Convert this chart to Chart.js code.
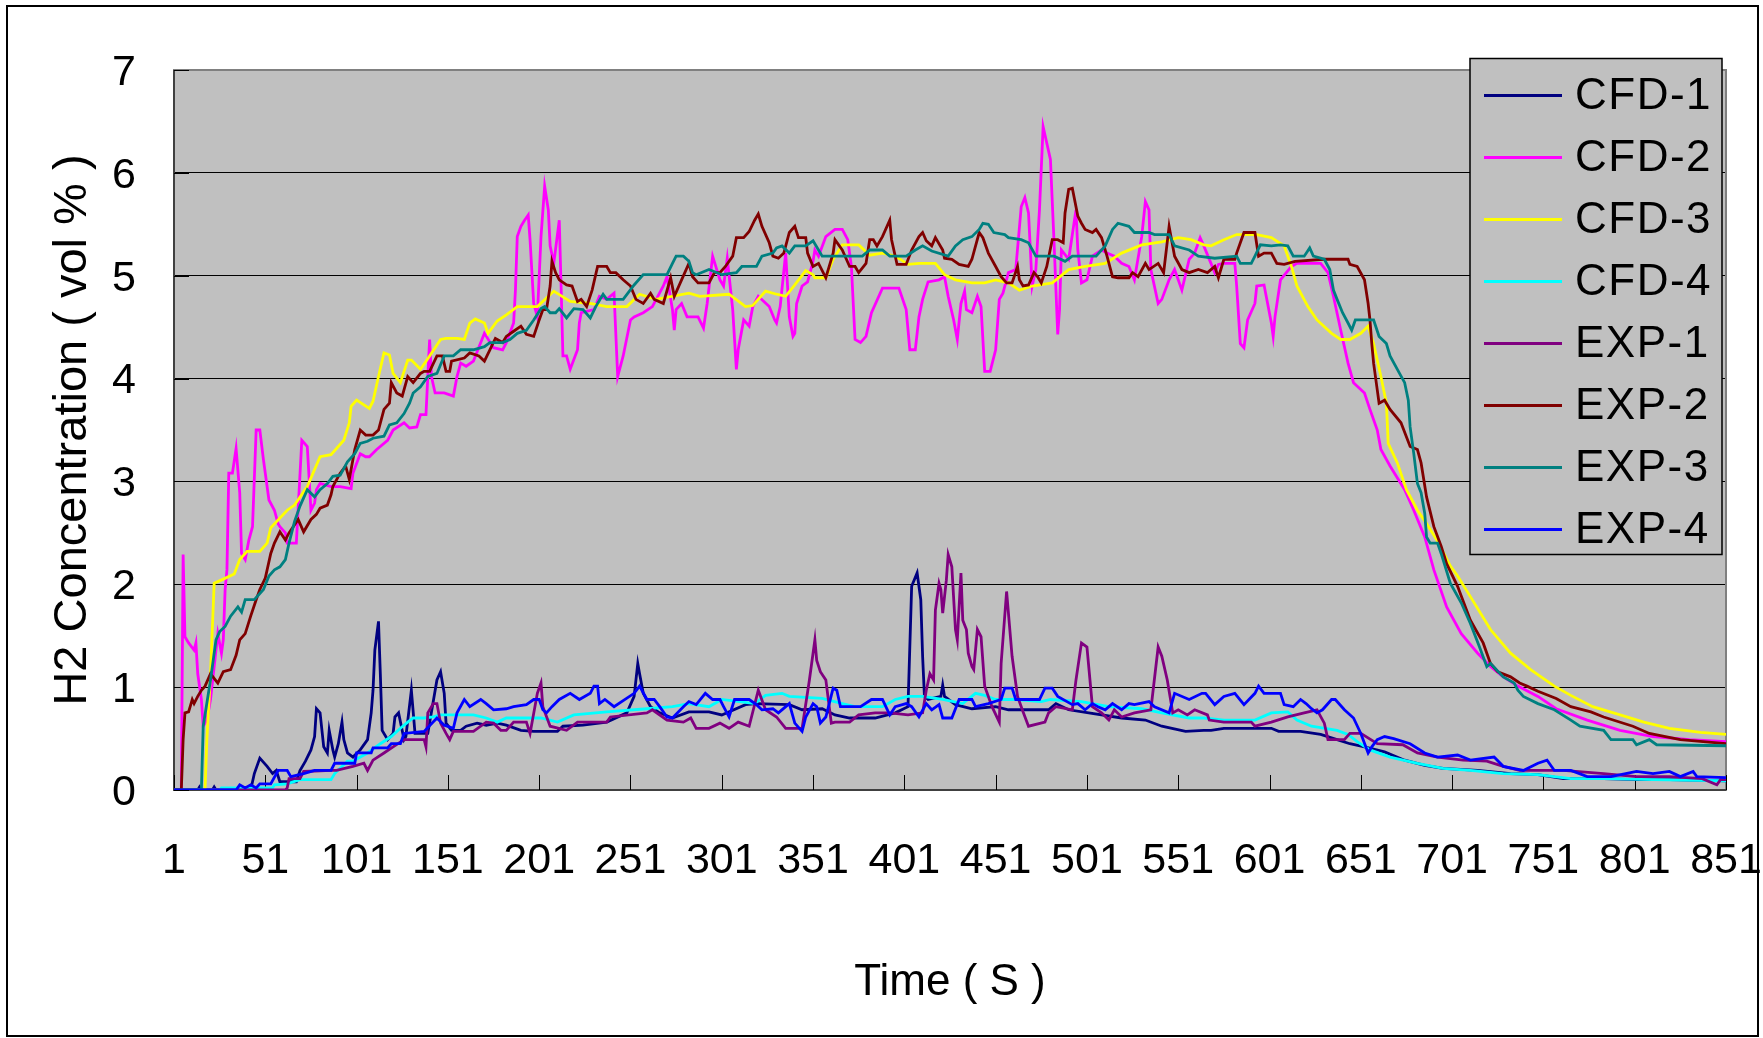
<!DOCTYPE html>
<html>
<head>
<meta charset="utf-8">
<script src="https://cdn.jsdelivr.net/npm/chart.js@4.4.0/dist/chart.umd.min.js"></script>
<style>
html,body{margin:0;padding:0;background:#fff;}
#wrap{position:relative;width:1763px;height:1038px;overflow:hidden;}
#c{position:absolute;left:0;top:0;}
#frame{position:absolute;left:6px;top:5px;width:1753px;height:1032px;box-sizing:border-box;border:2px solid #000;pointer-events:none;}
</style>
</head>
<body>
<div id="wrap"><canvas id="c" width="1763" height="1038"></canvas><div id="frame"></div></div>
<script>
// ---- data: [time (s), H2 concentration (vol %)] ----
const seriesNames = ["CFD-1","CFD-2","CFD-3","CFD-4","EXP-1","EXP-2","EXP-3","EXP-4"];
const seriesColors = ["#000080","#FF00FF","#FFFF00","#00FFFF","#800080","#800000","#008080","#0000FF"];
const xTickValues = [1,51,101,151,201,251,301,351,401,451,501,551,601,651,701,751,801,851];
const yTickValues = [0,1,2,3,4,5,6,7];
const xTitle = "Time ( S )";
const yTitle = "H2 Concentration ( vol % )";

const cfd1 = [[1,0],[14,0],[15,0.03],[16,0],[22,0],[23,0.03],[24,0],[43,0],[45,0.16],[48,0.31],[52,0.23],[55,0.16],[57,0.19],[59,0.08],[68,0.08],[70,0.19],[73,0.28],[76,0.39],[78,0.52],[79,0.79],[81,0.75],[83,0.42],[85,0.36],[86,0.58],[88,0.39],[89,0.32],[91,0.45],[93,0.66],[94,0.49],[96,0.36],[99,0.32],[103,0.39],[107,0.49],[109,0.75],[110,0.97],[111,1.36],[113,1.64],[114,1.13],[115,0.58],[118,0.49],[121,0.55],[122,0.71],[124,0.75],[127,0.49],[128,0.52],[131,0.97],[133,0.55],[140,0.55],[145,1.07],[147,1.15],[149,0.94],[150,0.65],[153,0.58],[158,0.58],[161,0.62],[167,0.65],[172,0.63],[178,0.65],[183,0.63],[191,0.58],[198,0.57],[211,0.57],[214,0.62],[225,0.63],[238,0.66],[249,0.75],[253,0.91],[255,1.23],[256,1.13],[258,0.94],[262,0.81],[267,0.75],[274,0.70],[283,0.76],[294,0.76],[301,0.73],[314,0.83],[320,0.84],[338,0.83],[345,0.78],[356,0.79],[363,0.73],[371,0.70],[385,0.70],[396,0.75],[403,0.81],[405,1.98],[408,2.11],[410,1.85],[411,1.30],[412,0.91],[414,0.88],[421,0.91],[422,1.02],[423,0.91],[429,0.83],[438,0.79],[451,0.81],[458,0.78],[480,0.78],[484,0.84],[491,0.78],[502,0.75],[520,0.70],[533,0.68],[542,0.62],[555,0.57],[565,0.58],[569,0.58],[576,0.60],[602,0.60],[606,0.57],[618,0.57],[629,0.54],[638,0.49],[645,0.45],[653,0.42],[664,0.37],[675,0.29],[686,0.24],[696,0.21],[715,0.19],[733,0.16],[748,0.15],[762,0.11],[784,0.11],[802,0.10],[820,0.10],[851,0.09]];

const cfd2 = [[1,0],[5,0],[6,2.29],[7,1.49],[9,1.43],[12,1.36],[13,1.43],[14,1.13],[16,0.88],[17,0.62],[19,0.68],[21,0.88],[25,1.52],[27,1.33],[28,1.46],[29,1.95],[30,2.14],[31,3.08],[33,3.08],[35,3.32],[37,2.89],[38,2.30],[40,2.24],[42,2.43],[44,2.56],[46,3.50],[48,3.50],[50,3.21],[53,2.82],[56,2.72],[58,2.59],[59,2.56],[62,2.50],[63,2.40],[68,2.40],[71,3.40],[74,3.34],[76,2.72],[78,2.79],[79,2.92],[81,2.98],[87,2.95],[92,2.95],[98,2.93],[99,3.08],[103,3.27],[106,3.24],[108,3.24],[112,3.31],[118,3.40],[121,3.50],[127,3.57],[130,3.52],[134,3.53],[136,3.65],[139,3.65],[140,4.02],[141,4.38],[142,4.02],[144,3.86],[149,3.86],[154,3.83],[156,4.02],[158,4.15],[161,4.12],[165,4.17],[171,4.44],[176,4.30],[181,4.28],[183,4.35],[187,4.54],[188,4.86],[189,5.38],[191,5.48],[193,5.54],[195,5.59],[196,5.35],[198,4.73],[200,4.60],[202,5.38],[204,5.87],[206,5.64],[207,5.29],[209,5.12],[212,5.54],[213,4.90],[214,4.22],[216,4.22],[218,4.09],[222,4.28],[223,4.54],[224,4.64],[231,4.67],[234,4.80],[238,4.77],[242,4.83],[244,4.02],[247,4.22],[251,4.57],[253,4.60],[258,4.64],[263,4.70],[269,4.90],[271,4.99],[274,4.67],[275,4.47],[276,4.67],[279,4.73],[282,4.60],[288,4.60],[291,4.49],[293,4.73],[296,5.19],[300,4.96],[302,4.90],[304,5.17],[307,4.67],[309,4.09],[310,4.28],[313,4.57],[316,4.51],[318,4.70],[321,4.80],[327,4.70],[330,4.57],[331,4.54],[333,4.70],[336,5.22],[338,4.60],[340,4.41],[341,4.44],[342,4.73],[345,4.90],[348,4.94],[351,5.14],[352,5.25],[354,5.19],[358,5.38],[363,5.45],[367,5.45],[370,5.35],[372,5.09],[374,4.38],[377,4.35],[380,4.41],[383,4.64],[389,4.88],[398,4.88],[402,4.67],[404,4.28],[407,4.28],[409,4.60],[411,4.77],[414,4.94],[420,4.96],[423,4.99],[425,4.80],[428,4.57],[430,4.38],[432,4.73],[434,4.85],[435,4.67],[438,4.64],[441,4.80],[443,4.70],[445,4.07],[448,4.07],[451,4.28],[453,4.77],[455,4.83],[458,5.03],[462,5.06],[465,5.67],[467,5.76],[469,5.61],[471,4.90],[473,5.06],[475,5.64],[477,6.45],[481,6.13],[483,5.32],[485,4.43],[486,4.67],[487,5.25],[491,5.16],[495,5.64],[496,5.25],[498,4.93],[501,4.96],[504,5.19],[509,5.25],[512,5.22],[516,5.19],[520,5.12],[524,5.09],[527,4.96],[531,5.38],[533,5.72],[535,5.64],[536,5.06],[540,4.73],[542,4.77],[546,4.96],[549,5.06],[553,4.86],[557,5.16],[560,5.22],[563,5.37],[565,5.29],[571,5.03],[573,5.11],[576,5.12],[582,5.12],[583,4.90],[585,4.34],[587,4.30],[589,4.57],[593,4.73],[594,4.90],[598,4.91],[602,4.54],[603,4.41],[604,4.60],[607,4.96],[613,5.09],[616,5.12],[629,5.12],[633,5.03],[636,4.80],[640,4.47],[644,4.15],[647,3.96],[653,3.86],[656,3.70],[660,3.50],[662,3.31],[667,3.15],[675,2.92],[680,2.72],[686,2.46],[691,2.14],[698,1.78],[706,1.52],[715,1.33],[722,1.20],[729,1.10],[737,1.01],[748,0.91],[758,0.79],[775,0.68],[793,0.58],[811,0.52],[831,0.49],[851,0.47]];

const cfd3 = [[1,0],[18,0],[19,0.49],[21,1.13],[23,2.01],[28,2.05],[34,2.10],[37,2.24],[41,2.32],[48,2.32],[52,2.40],[54,2.55],[63,2.72],[67,2.77],[74,2.95],[81,3.24],[87,3.26],[94,3.40],[97,3.57],[98,3.73],[101,3.79],[108,3.71],[110,3.78],[113,4.02],[116,4.25],[119,4.23],[121,4.05],[125,3.96],[129,4.18],[131,4.18],[136,4.09],[141,4.22],[147,4.38],[150,4.39],[156,4.39],[160,4.38],[163,4.54],[166,4.58],[171,4.54],[173,4.44],[178,4.56],[183,4.62],[189,4.70],[200,4.70],[209,4.85],[218,4.75],[229,4.73],[238,4.70],[249,4.70],[256,4.82],[265,4.77],[283,4.83],[289,4.80],[305,4.82],[314,4.70],[318,4.71],[325,4.85],[331,4.82],[336,4.80],[341,4.91],[347,5.05],[351,5.01],[352,4.98],[358,4.98],[362,5.16],[367,5.30],[376,5.30],[382,5.20],[389,5.22],[396,5.19],[403,5.11],[409,5.12],[418,5.12],[423,5.01],[429,4.96],[438,4.93],[445,4.93],[451,4.96],[458,4.93],[464,4.86],[471,4.90],[482,4.93],[491,5.06],[500,5.09],[511,5.12],[520,5.22],[531,5.30],[542,5.33],[551,5.37],[558,5.35],[565,5.30],[569,5.29],[576,5.35],[583,5.40],[594,5.40],[602,5.37],[609,5.29],[613,5.09],[616,4.90],[622,4.70],[627,4.57],[635,4.44],[640,4.38],[645,4.38],[651,4.44],[655,4.51],[658,4.34],[662,4.02],[665,3.76],[666,3.37],[671,3.18],[676,2.92],[682,2.72],[687,2.59],[693,2.42],[700,2.18],[704,2.08],[711,1.88],[722,1.56],[733,1.33],[744,1.17],[757,1.01],[766,0.92],[778,0.81],[793,0.73],[806,0.66],[820,0.60],[837,0.56],[851,0.54]];

const cfd4 = [[1,0],[26,0],[27,0.02],[55,0.02],[56,0.05],[63,0.06],[70,0.10],[87,0.10],[89,0.16],[96,0.28],[99,0.28],[107,0.36],[114,0.45],[120,0.52],[125,0.60],[129,0.66],[132,0.70],[138,0.70],[143,0.71],[147,0.73],[165,0.73],[172,0.70],[178,0.66],[183,0.70],[202,0.70],[211,0.66],[220,0.73],[238,0.76],[260,0.79],[274,0.81],[283,0.84],[294,0.81],[301,0.88],[319,0.84],[325,0.92],[334,0.94],[338,0.91],[356,0.89],[367,0.84],[374,0.81],[389,0.81],[396,0.88],[403,0.91],[411,0.91],[422,0.88],[433,0.84],[440,0.94],[445,0.92],[451,0.88],[462,0.88],[476,0.86],[481,0.88],[498,0.86],[513,0.81],[531,0.79],[542,0.75],[557,0.70],[565,0.70],[576,0.68],[593,0.68],[602,0.75],[611,0.76],[616,0.68],[624,0.62],[638,0.58],[644,0.54],[649,0.47],[656,0.39],[667,0.32],[682,0.26],[696,0.21],[711,0.19],[729,0.16],[748,0.15],[766,0.11],[784,0.11],[811,0.10],[851,0.09]];

const exp1 = [[1,0],[62,0],[63,0.02],[64,0.11],[70,0.11],[72,0.18],[87,0.19],[90,0.19],[99,0.23],[105,0.26],[107,0.19],[110,0.29],[116,0.36],[121,0.42],[127,0.49],[138,0.49],[139,0.42],[140,0.75],[143,0.84],[145,0.84],[147,0.65],[150,0.55],[152,0.49],[154,0.57],[165,0.57],[172,0.66],[176,0.65],[180,0.58],[183,0.58],[187,0.66],[194,0.66],[196,0.55],[200,0.94],[202,1.04],[203,0.81],[207,0.62],[216,0.58],[222,0.66],[238,0.66],[240,0.71],[260,0.75],[263,0.78],[271,0.68],[280,0.66],[284,0.70],[287,0.60],[294,0.60],[300,0.65],[305,0.60],[310,0.66],[316,0.62],[321,0.97],[325,0.78],[331,0.71],[336,0.60],[345,0.60],[349,1.07],[352,1.46],[353,1.26],[355,1.15],[358,1.07],[361,0.65],[363,0.66],[371,0.66],[376,0.73],[385,0.75],[393,0.75],[403,0.73],[411,0.75],[413,0.97],[415,1.13],[417,1.07],[418,1.75],[420,2.01],[421,1.95],[422,1.72],[424,2.04],[425,2.29],[427,2.17],[429,1.56],[430,1.46],[432,2.11],[433,1.65],[435,1.56],[436,1.33],[438,1.20],[439,1.17],[441,1.56],[443,1.49],[445,1.01],[449,0.81],[453,0.66],[454,1.23],[457,1.93],[460,1.30],[463,0.91],[466,0.76],[469,0.62],[478,0.66],[480,0.75],[484,0.81],[493,0.78],[495,1.07],[498,1.43],[501,1.39],[504,0.81],[509,0.75],[513,0.68],[516,0.78],[520,0.71],[527,0.75],[536,0.78],[540,1.39],[542,1.30],[545,1.07],[548,0.75],[551,0.78],[556,0.73],[560,0.78],[567,0.73],[568,0.68],[576,0.66],[591,0.66],[593,0.62],[602,0.66],[611,0.71],[620,0.75],[627,0.78],[631,0.65],[633,0.49],[642,0.49],[645,0.55],[651,0.55],[660,0.45],[674,0.44],[682,0.36],[693,0.32],[707,0.29],[720,0.28],[729,0.23],[738,0.19],[762,0.19],[784,0.16],[802,0.13],[820,0.13],[838,0.11],[846,0.05],[848,0.10],[851,0.10]];

const exp2 = [[1,0],[5,0],[6,0.49],[7,0.75],[9,0.76],[11,0.88],[12,0.84],[14,0.91],[16,0.97],[18,1.01],[21,1.13],[25,1.04],[28,1.15],[32,1.17],[35,1.31],[37,1.46],[40,1.52],[43,1.69],[46,1.85],[48,1.95],[51,2.06],[54,2.30],[56,2.40],[59,2.51],[62,2.43],[64,2.50],[69,2.63],[72,2.51],[76,2.63],[79,2.68],[81,2.74],[85,2.77],[87,2.87],[88,2.95],[92,3.08],[95,3.15],[97,3.02],[100,3.31],[103,3.50],[106,3.45],[110,3.45],[113,3.50],[116,3.70],[119,3.76],[120,3.96],[123,3.86],[126,3.83],[129,4.02],[132,3.96],[136,4.05],[138,4.07],[141,4.07],[145,4.22],[148,4.22],[150,4.07],[152,4.07],[153,4.17],[160,4.20],[163,4.25],[168,4.22],[171,4.17],[174,4.28],[177,4.39],[181,4.35],[183,4.41],[187,4.46],[191,4.51],[194,4.43],[198,4.41],[201,4.57],[203,4.67],[205,4.67],[207,4.90],[208,5.14],[210,5.03],[212,4.96],[216,4.91],[219,4.90],[222,4.75],[224,4.77],[227,4.70],[230,4.86],[233,5.09],[238,5.09],[240,5.03],[243,5.03],[247,4.96],[251,4.90],[254,4.77],[258,4.73],[262,4.83],[264,4.77],[269,4.73],[273,4.98],[275,4.80],[279,4.96],[283,5.12],[285,4.99],[288,4.93],[294,4.93],[297,5.03],[300,5.03],[303,5.09],[307,5.19],[309,5.37],[313,5.37],[316,5.43],[319,5.54],[321,5.60],[323,5.48],[327,5.32],[329,5.19],[332,5.17],[335,5.22],[338,5.42],[341,5.48],[343,5.37],[347,5.37],[348,5.22],[351,5.09],[354,5.12],[358,4.98],[362,5.22],[363,5.35],[367,5.25],[371,5.09],[374,5.09],[376,5.03],[380,5.12],[382,5.35],[384,5.35],[386,5.29],[389,5.38],[393,5.54],[394,5.35],[397,5.11],[402,5.11],[405,5.25],[409,5.38],[411,5.42],[413,5.34],[416,5.29],[418,5.37],[422,5.25],[423,5.17],[427,5.16],[431,5.11],[436,5.09],[438,5.16],[442,5.42],[444,5.37],[447,5.22],[451,5.09],[454,4.99],[457,4.93],[460,4.93],[463,5.09],[464,4.96],[466,4.90],[469,4.91],[472,5.03],[474,4.99],[476,4.93],[479,5.09],[482,5.35],[485,5.35],[488,5.32],[489,5.61],[491,5.84],[493,5.85],[496,5.58],[498,5.51],[500,5.45],[504,5.42],[506,5.45],[509,5.37],[512,5.19],[515,4.99],[518,4.98],[524,4.98],[526,5.03],[529,4.99],[533,5.12],[535,5.06],[540,5.12],[543,5.03],[546,5.48],[549,5.19],[553,5.06],[557,5.03],[562,5.06],[567,5.03],[571,5.09],[573,4.98],[576,5.16],[582,5.16],[583,5.22],[587,5.42],[593,5.42],[595,5.19],[598,5.22],[602,5.22],[605,5.12],[609,5.11],[615,5.14],[631,5.16],[644,5.16],[645,5.11],[649,5.09],[653,4.96],[655,4.73],[656,4.57],[657,4.34],[658,4.15],[660,3.89],[661,3.76],[664,3.79],[667,3.70],[673,3.57],[678,3.34],[682,3.31],[684,3.18],[687,2.85],[691,2.56],[695,2.37],[698,2.20],[704,1.98],[711,1.65],[718,1.43],[722,1.23],[726,1.15],[733,1.10],[738,1.04],[742,1.01],[748,0.96],[758,0.89],[766,0.81],[777,0.76],[784,0.71],[800,0.62],[809,0.55],[826,0.49],[851,0.45]];

const exp3 = [[1,0],[16,0],[17,0.62],[21,1.07],[24,1.46],[26,1.54],[29,1.59],[32,1.69],[36,1.78],[38,1.73],[40,1.85],[45,1.85],[48,1.91],[50,1.95],[53,2.08],[56,2.14],[59,2.17],[62,2.24],[64,2.40],[67,2.61],[70,2.76],[74,2.92],[78,2.85],[81,2.92],[85,2.98],[88,3.05],[92,3.06],[96,3.19],[100,3.27],[103,3.37],[107,3.39],[110,3.42],[116,3.44],[119,3.55],[123,3.57],[127,3.66],[130,3.76],[132,3.86],[136,3.92],[140,4.02],[145,4.05],[149,4.22],[154,4.22],[158,4.28],[165,4.28],[171,4.31],[174,4.35],[181,4.35],[185,4.38],[189,4.44],[194,4.47],[198,4.57],[202,4.68],[204,4.70],[207,4.64],[210,4.64],[212,4.68],[216,4.59],[220,4.68],[225,4.67],[229,4.59],[232,4.70],[236,4.82],[238,4.77],[247,4.77],[253,4.91],[258,5.01],[271,5.01],[274,5.12],[276,5.19],[280,5.19],[283,5.14],[285,5.03],[287,5.01],[294,5.06],[301,5.01],[309,5.03],[312,5.09],[320,5.09],[323,5.19],[329,5.22],[331,5.27],[334,5.29],[338,5.22],[341,5.29],[347,5.29],[351,5.34],[354,5.25],[356,5.19],[378,5.19],[382,5.25],[389,5.25],[393,5.19],[402,5.19],[407,5.25],[411,5.29],[416,5.24],[425,5.19],[429,5.29],[433,5.35],[438,5.38],[442,5.45],[444,5.51],[447,5.50],[450,5.42],[456,5.40],[458,5.37],[465,5.35],[469,5.32],[473,5.19],[483,5.19],[489,5.14],[493,5.19],[506,5.19],[511,5.29],[515,5.45],[518,5.51],[524,5.48],[527,5.42],[535,5.42],[538,5.40],[546,5.40],[549,5.29],[557,5.25],[562,5.19],[571,5.17],[583,5.19],[585,5.12],[591,5.12],[593,5.19],[596,5.30],[602,5.29],[607,5.30],[611,5.29],[614,5.19],[620,5.19],[623,5.27],[625,5.19],[631,5.16],[634,5.06],[636,4.86],[638,4.77],[641,4.64],[644,4.54],[646,4.47],[648,4.57],[658,4.57],[661,4.41],[665,4.34],[667,4.22],[671,4.09],[675,3.96],[677,3.79],[678,3.53],[680,3.27],[682,2.98],[684,2.89],[686,2.69],[687,2.46],[689,2.40],[693,2.40],[695,2.30],[700,2.01],[706,1.82],[711,1.62],[716,1.39],[720,1.20],[722,1.23],[729,1.10],[735,1.04],[737,0.97],[740,0.91],[748,0.84],[757,0.78],[766,0.68],[771,0.62],[784,0.58],[788,0.49],[800,0.49],[802,0.44],[809,0.49],[813,0.44],[851,0.43]];

const exp4 = [[1,0],[35,0],[37,0.05],[40,0.02],[43,0.05],[46,0.02],[48,0.06],[54,0.06],[58,0.19],[63,0.19],[65,0.13],[72,0.16],[78,0.19],[87,0.19],[89,0.26],[100,0.26],[101,0.36],[109,0.36],[110,0.41],[118,0.41],[120,0.45],[125,0.45],[127,0.55],[138,0.57],[145,0.70],[149,0.63],[154,0.60],[156,0.75],[160,0.88],[163,0.81],[169,0.88],[172,0.84],[176,0.78],[183,0.79],[187,0.81],[194,0.83],[198,0.88],[201,0.88],[203,0.78],[205,0.75],[208,0.81],[212,0.88],[218,0.94],[223,0.88],[229,0.94],[231,1.01],[233,1.01],[234,0.84],[237,0.88],[242,0.81],[253,0.94],[256,1.01],[260,0.88],[264,0.88],[267,0.81],[271,0.71],[274,0.70],[280,0.81],[283,0.86],[287,0.83],[292,0.94],[296,0.88],[300,0.88],[302,0.81],[305,0.71],[308,0.88],[316,0.88],[320,0.83],[323,0.78],[329,0.79],[332,0.75],[338,0.84],[341,0.65],[345,0.57],[347,0.71],[351,0.84],[353,0.81],[355,0.65],[358,0.71],[362,0.99],[364,0.97],[366,0.81],[377,0.81],[383,0.88],[389,0.88],[393,0.73],[396,0.81],[402,0.84],[405,0.81],[409,0.71],[413,0.84],[416,0.78],[420,0.83],[422,0.70],[427,0.70],[431,0.88],[438,0.88],[440,0.81],[447,0.84],[454,0.88],[456,0.99],[460,0.99],[462,0.88],[475,0.88],[478,0.99],[482,0.99],[485,0.91],[493,0.83],[496,0.84],[500,0.78],[504,0.84],[507,0.81],[511,0.78],[515,0.84],[520,0.78],[524,0.84],[527,0.83],[535,0.86],[538,0.81],[546,0.75],[549,0.94],[557,0.88],[564,0.94],[566,0.94],[571,0.83],[576,0.91],[582,0.94],[587,0.83],[593,0.94],[595,1.01],[598,0.94],[607,0.94],[609,0.83],[614,0.81],[618,0.88],[621,0.84],[624,0.79],[627,0.75],[630,0.78],[635,0.88],[637,0.88],[642,0.78],[647,0.70],[651,0.55],[655,0.36],[657,0.42],[660,0.49],[664,0.52],[669,0.50],[678,0.45],[686,0.36],[693,0.32],[704,0.34],[711,0.29],[724,0.32],[729,0.23],[740,0.19],[748,0.26],[753,0.29],[757,0.19],[766,0.19],[775,0.13],[788,0.13],[802,0.18],[811,0.16],[820,0.18],[826,0.13],[833,0.18],[835,0.13],[851,0.12]];

const seriesData = [cfd1, cfd2, cfd3, cfd4, exp1, exp2, exp3, exp4];

// ---- rendering ----
const FONT = '"Liberation Sans", Arial, Helvetica, sans-serif';

const plotDecor = {
  id: 'plotDecor',
  beforeDraw(chart) {
    const {ctx, chartArea: a} = chart;
    ctx.save();
    ctx.fillStyle = '#C0C0C0';
    ctx.fillRect(a.left, a.top, a.right - a.left, a.bottom - a.top);
    ctx.restore();
  },
  beforeDatasetsDraw(chart) {
    const {ctx, chartArea: a, scales} = chart;
    ctx.save();
    ctx.strokeStyle = '#808080';
    ctx.lineWidth = 2;
    ctx.strokeRect(a.left, a.top, a.right - a.left, a.bottom - a.top);
    ctx.strokeStyle = '#404040';
    ctx.beginPath();
    ctx.moveTo(a.left, a.top); ctx.lineTo(a.left, a.bottom); ctx.lineTo(a.right, a.bottom);
    ctx.stroke();
    ctx.strokeStyle = '#000';
    ctx.lineWidth = 1;
    scales.x.ticks.forEach(t => {
      const px = Math.round(scales.x.getPixelForValue(t.value)) + 0.5;
      ctx.beginPath(); ctx.moveTo(px, a.bottom); ctx.lineTo(px, a.bottom - 15); ctx.stroke();
    });
    scales.y.ticks.forEach(t => {
      const py = Math.round(scales.y.getPixelForValue(t.value)) + 0.5;
      ctx.beginPath(); ctx.moveTo(a.left, py); ctx.lineTo(a.left + 15, py); ctx.stroke();
    });
    ctx.restore();
  }
};

const boxLegend = {
  id: 'boxLegend',
  afterDraw(chart) {
    const {ctx} = chart;
    const bx = 1470, by = 58.5, bw = 252, bh = 496;
    ctx.save();
    ctx.fillStyle = '#C0C0C0';
    ctx.fillRect(bx, by, bw, bh);
    ctx.strokeStyle = '#000';
    ctx.lineWidth = 1.5;
    ctx.strokeRect(bx, by, bw, bh);
    ctx.font = '44px ' + FONT;
    ctx.textBaseline = 'middle';
    ctx.textAlign = 'left';
    try { ctx.letterSpacing = '1.5px'; } catch (e) {}
    chart.data.datasets.forEach((ds, i) => {
      const y = 95.5 + i * 62;
      ctx.strokeStyle = ds.borderColor;
      ctx.lineWidth = 3;
      ctx.beginPath(); ctx.moveTo(1484, y); ctx.lineTo(1562, y); ctx.stroke();
      ctx.fillStyle = '#000';
      ctx.fillText(ds.label, 1575, y + 1);
    });
    ctx.restore();
  }
};

const datasets = seriesNames.map((name, i) => ({
  label: name,
  data: seriesData[i].map(p => ({x: p[0], y: p[1]})),
  borderColor: seriesColors[i],
  backgroundColor: seriesColors[i],
  borderWidth: 2.8,
  pointRadius: 0,
  pointHoverRadius: 0,
  tension: 0,
  fill: false,
  order: seriesNames.length - 1 - i
}));

new Chart(document.getElementById('c'), {
  type: 'line',
  data: { datasets },
  options: {
    responsive: false,
    animation: false,
    devicePixelRatio: 1,
    layout: { padding: { left: 0, right: 37, top: 70, bottom: 0 } },
    plugins: { legend: { display: false }, tooltip: { enabled: false } },
    scales: {
      x: {
        type: 'linear',
        min: 1, max: 851,
        afterBuildTicks: (axis) => { axis.ticks = xTickValues.map(v => ({ value: v })); },
        afterFit: (s) => { s.height = 248; s.paddingLeft = 0; s.paddingRight = 0; },
        grid: { display: false, drawTicks: false },
        border: { display: false },
        ticks: {
          autoSkip: false, maxRotation: 0, minRotation: 0, padding: 45,
          color: '#000', font: { family: FONT, size: 43 },
          callback: (v) => String(v)
        },
        title: { display: true, text: xTitle, color: '#000', font: { family: FONT, size: 44 }, padding: { top: 0, bottom: 29 } }
      },
      y: {
        type: 'linear',
        min: 0, max: 7,
        afterBuildTicks: (axis) => { axis.ticks = yTickValues.map(v => ({ value: v })); },
        afterFit: (s) => { s.width = 174; },
        grid: {
          drawTicks: false,
          lineWidth: 1,
          color: (c) => (c.tick && c.tick.value > 0 && c.tick.value < 7) ? '#000' : 'rgba(0,0,0,0)'
        },
        border: { display: false },
        ticks: { padding: 38, labelOffset: 3, color: '#000', font: { family: FONT, size: 43 } },
        title: { display: true, text: yTitle, color: '#000', font: { family: FONT, size: 47 }, padding: { top: 45, bottom: 0 } }
      }
    }
  },
  plugins: [plotDecor, boxLegend]
});
</script>
</body>
</html>
